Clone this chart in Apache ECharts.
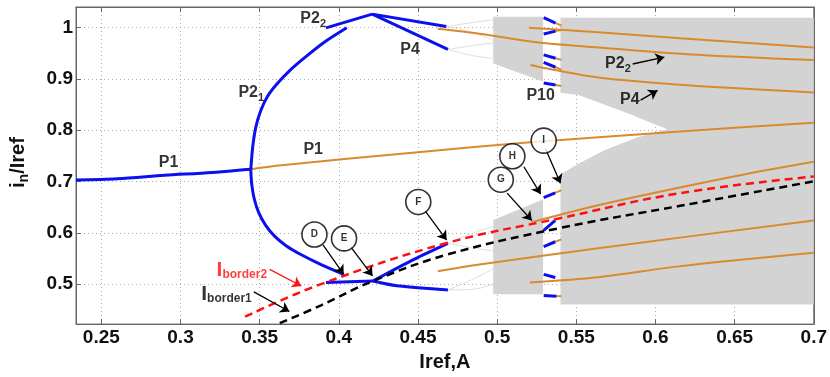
<!DOCTYPE html>
<html>
<head>
<meta charset="utf-8">
<script src="https://cdn.jsdelivr.net/npm/echarts@6.0.0/dist/echarts.min.js"></script>
<style>
  html, body { margin: 0; padding: 0; background: #fff; }
  #chart { width: 830px; height: 377px; }
</style>
</head>
<body>
<div id="chart"></div>
<script>
// tick labels
const xTicks = [0.25, 0.3, 0.35, 0.4, 0.45, 0.5, 0.55, 0.6, 0.65, 0.7]
const yTicks = [0.5, 0.6, 0.7, 0.8, 0.9, 1]

// stable branches (blue)
const p1Stable = [[0.234, 0.703], [0.26, 0.7055], [0.29, 0.712], [0.32, 0.7175], [0.3444, 0.724]]
const p2ArcUpper = [[0.3444, 0.723], [0.3456, 0.7669], [0.3475, 0.805], [0.3506, 0.8374], [0.355, 0.866],
  [0.3606, 0.8889], [0.3688, 0.9156], [0.3788, 0.9422], [0.3906, 0.9708], [0.405, 0.9994]]
const p2ArcLower = [[0.3444, 0.723], [0.345, 0.6944], [0.3466, 0.6658], [0.3494, 0.6392], [0.3538, 0.6144],
  [0.3594, 0.5934], [0.3669, 0.5743], [0.3763, 0.5572], [0.3888, 0.5381], [0.4031, 0.5191]]
const p2TopBranch = [[0.3919, 0.9994], [0.4211, 1.0261]]
const p4TopUpper = [[0.4211, 1.0261], [0.4679, 1.0019]]
const p4TopLower = [[0.4211, 1.0261], [0.4689, 0.9575]]
const p2BottomBranch = [[0.3919, 0.5032], [0.4216, 0.506]]
const p4BottomLower = [[0.4216, 0.506], [0.4367, 0.4968], [0.4689, 0.4886]]
const p4BottomUpper = [[0.4216, 0.506], [0.4471, 0.5477], [0.4689, 0.5795]]
// P10 window, short blue pieces
const p10Marks = [
  [[0.5294, 1.0194], [0.5369, 1.0087]],
  [[0.5294, 0.9875], [0.5369, 0.993]],
  [[0.5294, 0.9466], [0.5369, 0.94]],
  [[0.5294, 0.932], [0.5369, 0.9226]],
  [[0.5294, 0.892], [0.5369, 0.888]],
  [[0.5294, 0.6683], [0.5367, 0.6779]],
  [[0.5294, 0.6048], [0.5367, 0.624]],
  [[0.5294, 0.573], [0.5367, 0.5825]],
  [[0.5294, 0.519], [0.5367, 0.5127]],
  [[0.5294, 0.4777], [0.5375, 0.4765]]
]
const p10Stubs = [
  [[0.5369, 1.0087], [0.5406, 1.004]],
  [[0.5369, 0.993], [0.5406, 0.995]],
  [[0.5369, 0.94], [0.5406, 0.937]],
  [[0.5369, 0.9226], [0.5406, 0.918]],
  [[0.5369, 0.888], [0.5406, 0.886]],
  [[0.5367, 0.6779], [0.5406, 0.683]],
  [[0.5367, 0.5825], [0.5406, 0.587]],
  [[0.5375, 0.4765], [0.5406, 0.4765]]
]

// unstable orbits (orange)
const p1Unstable = [[0.3444, 0.724], [0.3638, 0.7315], [0.45, 0.757], [0.521, 0.7764], [0.62, 0.7985], [0.7, 0.8145]]
const orangeUp1 = [[0.52, 0.9994], [0.5638, 0.991], [0.6156, 0.979], [0.7, 0.961]]
const orangeUp2 = [[0.4625, 0.9975], [0.4888, 0.988], [0.5263, 0.9708], [0.5638, 0.9613], [0.62, 0.948], [0.7, 0.9365]]
const orangeUp3 = [[0.5211, 0.927], [0.5325, 0.9195], [0.5638, 0.9025], [0.62, 0.8875], [0.7, 0.8736]]
const orangeLow1 = [[0.5219, 0.6207], [0.5638, 0.6538], [0.6494, 0.7097], [0.7, 0.7383]]
const orangeLow2 = [[0.4625, 0.5248], [0.4888, 0.5381], [0.5638, 0.5699], [0.7, 0.6239]]
const orangeLow3 = [[0.5206, 0.5032], [0.5638, 0.5133], [0.6156, 0.535], [0.7, 0.561]]

// border currents (dashed)
const iBorder2 = [[0.3408, 0.4365], [0.3888, 0.5], [0.4681, 0.58], [0.5388, 0.6277], [0.6156, 0.6773], [0.7, 0.7097]]
const iBorder1 = [[0.3627, 0.4238], [0.3888, 0.4586], [0.4213, 0.5057], [0.4681, 0.5572], [0.5388, 0.6087], [0.6156, 0.6525], [0.7, 0.7002]]

// chaotic regions (grey)
const chaosUpperBox = [[0.4975, 1.021], [0.529, 1.021], [0.529, 0.895], [0.4975, 0.93]]
const chaosLowerBox = [[0.4975, 0.625], [0.529, 0.665], [0.529, 0.48], [0.4975, 0.48]]
const chaosMain = [[0.54, 1.019], [0.7, 1.019], [0.7, 0.46], [0.54, 0.46], [0.54, 0.7135], [0.5513, 0.7345],
  [0.5681, 0.7611], [0.5888, 0.786], [0.6075, 0.8017], [0.5994, 0.8113], [0.5844, 0.8303], [0.5681, 0.8494],
  [0.5513, 0.8685], [0.54, 0.873]]
const transients = [
  [[0.468, 1.002], [0.485, 1.01], [0.4975, 1.015]],
  [[0.468, 1.002], [0.485, 0.99], [0.4975, 0.975]],
  [[0.469, 0.9575], [0.485, 0.965], [0.4975, 0.97]],
  [[0.469, 0.9575], [0.485, 0.945], [0.4975, 0.94]],
  [[0.469, 0.5795], [0.485, 0.6], [0.4975, 0.612]],
  [[0.469, 0.5795], [0.485, 0.57], [0.4975, 0.565]],
  [[0.469, 0.4886], [0.485, 0.49], [0.4975, 0.5]],
  [[0.469, 0.4886], [0.485, 0.51], [0.4975, 0.53]]
]

// annotations
const pointLabels = [
  ['P1', 0.2925, 0.7364], ['P1', 0.3838, 0.7612], ['P2_1', 0.3447, 0.8755], ['P2_2', 0.3838, 1.0204],
  ['P4', 0.445, 0.9575], ['P10', 0.5275, 0.868], ['P2_2', 0.5763, 0.9327], ['P4', 0.5838, 0.8603]
]
const circleMarks = [
  ['D', 0.3846, 0.5966], ['E', 0.4033, 0.589], ['F', 0.4502, 0.6601],
  ['G', 0.5023, 0.7034], ['H', 0.5096, 0.7491], ['I', 0.5294, 0.7796]
]
const blackArrows = [
  [[0.39, 0.5762], [0.4031, 0.5191]],
  [[0.4075, 0.5724], [0.4213, 0.5158]],
  [[0.4544, 0.643], [0.4681, 0.5858]],
  [[0.5063, 0.6773], [0.5219, 0.6239]],
  [[0.5169, 0.7287], [0.5275, 0.6754]],
  [[0.5306, 0.7631], [0.54, 0.6963]],
  [[0.5856, 0.9289], [0.6056, 0.9422]],
  [[0.5906, 0.8584], [0.6013, 0.8774]],
  [[0.3463, 0.4848], [0.3688, 0.4466]]
]
const redArrows = [[[0.3563, 0.5286], [0.3763, 0.4962]]]

const BLUE = '#0a10ee'
const ORANGE = '#d98a2c'
const GREY = '#d3d3d3'
const FONT = 'Liberation Sans, Arial, sans-serif'

function curve(data, color, width, z, extra) {
  return Object.assign({
    type: 'line',
    data: data,
    symbol: 'none',
    silent: true,
    z: z,
    lineStyle: { color: color, width: width }
  }, extra || {})
}

function region(points) {
  return {
    type: 'custom',
    silent: true,
    z: 1,
    data: [points[0]],
    renderItem: (params, api) => ({
      type: 'polygon',
      shape: { points: points.map(p => api.coord(p)) },
      style: { fill: GREY }
    })
  }
}

// main text top-aligned, subscript bottom-aligned so it drops below the baseline
const subRich = {
  m: { fontSize: 16, fontWeight: 'bold', fontFamily: FONT, color: '#000', lineHeight: 16, verticalAlign: 'top' },
  s: { fontSize: 11, fontWeight: 'bold', fontFamily: FONT, color: '#000', lineHeight: 19, verticalAlign: 'bottom' }
}

function labelText(name) {
  if (name.indexOf('_') >= 0) {
    const parts = name.split('_')
    return '{m|' + parts[0] + '}{s|' + parts[1] + '}'
  }
  return '{m|' + name + '}'
}

const series = []
series.push(region(chaosUpperBox), region(chaosLowerBox), region(chaosMain))
transients.forEach(t => series.push(curve(t, '#d6d6d6', 0.8, 2, { smooth: 0.4 })))

series.push(curve(p1Unstable, ORANGE, 2, 3, { smooth: 0.3 }))
;[orangeUp1, orangeUp2, orangeUp3, orangeLow1, orangeLow2, orangeLow3].forEach(d =>
  series.push(curve(d, ORANGE, 2, 3, { smooth: 0.3 })))
p10Stubs.forEach(d => series.push(curve(d, ORANGE, 2, 3)))

series.push(curve(p1Stable, BLUE, 3, 4, { smooth: 0.3 }))
;[p2ArcUpper, p2ArcLower, p4BottomLower, p4BottomUpper].forEach(d =>
  series.push(curve(d, BLUE, 3, 4, { smooth: 0.3 })))
;[p2TopBranch, p4TopUpper, p4TopLower, p2BottomBranch].forEach(d =>
  series.push(curve(d, BLUE, 3, 4)))
p10Marks.forEach(d => series.push(curve(d, BLUE, 3, 4)))

series.push(curve(iBorder2, '#ff1010', 2.5, 4, { smooth: 0.4, lineStyle: { color: '#ff1010', width: 2.5, type: [8, 5] } }))
series.push(curve(iBorder1, '#000', 2.5, 4, { smooth: 0.4, lineStyle: { color: '#000', width: 2.5, type: [8, 5] } }))

series.push({
  type: 'lines',
  coordinateSystem: 'cartesian2d',
  silent: true,
  z: 5,
  symbol: ['none', 'arrow'],
  symbolSize: 9,
  lineStyle: { color: '#000', width: 1.3, opacity: 1 },
  data: blackArrows.map(a => ({ coords: a }))
})
series.push({
  type: 'lines',
  coordinateSystem: 'cartesian2d',
  silent: true,
  z: 5,
  symbol: ['none', 'arrow'],
  symbolSize: 9,
  lineStyle: { color: '#ff1010', width: 1.3, opacity: 1 },
  data: redArrows.map(a => ({ coords: a }))
})

series.push({
  type: 'scatter',
  silent: true,
  z: 6,
  symbol: 'circle',
  symbolSize: 25,
  itemStyle: { color: '#fff', borderColor: '#000', borderWidth: 1.6 },
  label: {
    show: true, position: 'inside', formatter: '{b}',
    fontSize: 10, fontWeight: 'bold', fontFamily: FONT, color: '#000'
  },
  data: circleMarks.map(c => ({ name: c[0], value: [c[1], c[2]] }))
})

series.push({
  type: 'scatter',
  silent: true,
  z: 6,
  symbolSize: 0,
  label: {
    show: true, position: 'inside',
    formatter: p => labelText(p.name),
    rich: subRich
  },
  data: pointLabels.map(l => ({
    name: l[0],
    value: [l[1], l[2]],
    label: { offset: [0, l[0].indexOf('_') >= 0 ? 3 : 0] }
  }))
})

// I_border labels
const borderRich = (color) => ({
  I: { fontSize: 21, fontWeight: 'bold', fontFamily: FONT, color: color, lineHeight: 21, verticalAlign: 'bottom' },
  s: { fontSize: 12, fontWeight: 'bold', fontFamily: FONT, color: color, lineHeight: 21, verticalAlign: 'bottom' }
})
series.push({
  type: 'scatter',
  silent: true,
  z: 6,
  symbolSize: 0,
  label: {
    show: true, position: 'right', distance: 0,
    formatter: '{I|I}{s|border2}', rich: borderRich('#ff1010')
  },
  data: [[0.3228, 0.5277]]
})
series.push({
  type: 'scatter',
  silent: true,
  z: 6,
  symbolSize: 0,
  label: {
    show: true, position: 'right', distance: 0,
    formatter: '{I|I}{s|border1}', rich: borderRich('#000')
  },
  data: [[0.3131, 0.481]]
})

const axisColor = '#666'
const tickFont = { fontSize: 19, fontWeight: 'bold', fontFamily: FONT, color: '#111' }

const chart = echarts.init(document.getElementById('chart'))
chart.setOption({
  animation: false,
  backgroundColor: '#fff',
  grid: { left: 73, right: 11, top: 7, bottom: 46, show: true, borderColor: axisColor, borderWidth: 1 },
  xAxis: [{
    type: 'value', min: 0.234, max: 0.7,
    axisLine: { lineStyle: { color: axisColor } },
    axisTick: { inside: true, length: 5, customValues: xTicks, lineStyle: { color: axisColor } },
    axisLabel: Object.assign({ customValues: xTicks, margin: 4, formatter: v => String(v) }, tickFont),
    splitLine: { show: true, lineStyle: { type: [1, 3], color: '#aaa' } },
    name: 'Iref,A', nameLocation: 'middle', nameGap: 24,
    nameTextStyle: { fontSize: 20, fontWeight: 'bold', fontFamily: FONT, color: '#111' }
  }, {
    type: 'value', min: 0.234, max: 0.7, position: 'top',
    axisLine: { lineStyle: { color: axisColor } },
    axisTick: { inside: true, length: 5, customValues: xTicks, lineStyle: { color: axisColor } },
    axisLabel: { show: false, customValues: xTicks },
    splitLine: { show: false }
  }],
  yAxis: [{
    type: 'value', min: 0.422, max: 1.04,
    axisLine: { show: true, lineStyle: { color: axisColor } },
    axisTick: { show: true, inside: true, length: 5, customValues: yTicks, lineStyle: { color: axisColor } },
    axisLabel: Object.assign({ customValues: yTicks, margin: 3, formatter: v => String(v) }, tickFont),
    splitLine: { show: true, lineStyle: { type: [1, 3], color: '#aaa' } },
    name: '{a|i}{b|n}{a|/Iref}', nameLocation: 'middle', nameRotate: 90, nameGap: 45,
    nameTextStyle: {
      padding: [0, 0, 0, 6],
      rich: {
        a: { fontSize: 20, fontWeight: 'bold', fontFamily: FONT, color: '#111', lineHeight: 20, verticalAlign: 'top' },
        b: { fontSize: 14, fontWeight: 'bold', fontFamily: FONT, color: '#111', lineHeight: 23, verticalAlign: 'bottom' }
      }
    }
  }, {
    type: 'value', min: 0.422, max: 1.04, position: 'right',
    axisLine: { show: true, lineStyle: { color: axisColor } },
    axisTick: { show: true, inside: true, length: 5, customValues: yTicks, lineStyle: { color: axisColor } },
    axisLabel: { show: false, customValues: yTicks },
    splitLine: { show: false }
  }],
  series: series
})
</script>
</body>
</html>
